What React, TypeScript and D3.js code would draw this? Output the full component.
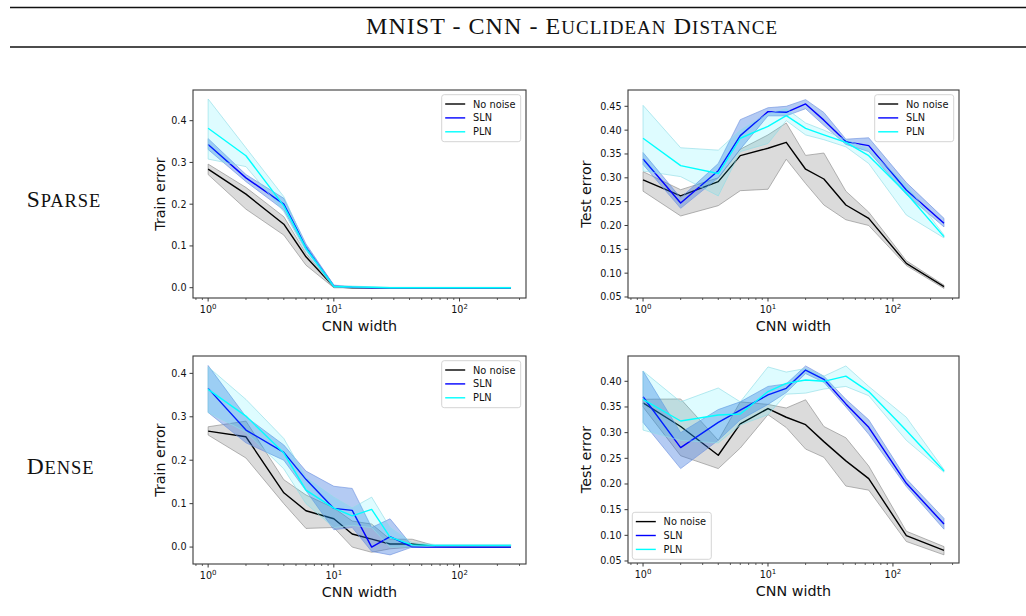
import React from 'react';
import * as d3 from 'd3';

const WIDTHS = [1, 2, 4, 6, 10, 14, 20, 28, 42, 64, 128, 256];
const SERIES_NAMES = ['No noise', 'SLN', 'PLN'];
const X_TICKS = [1, 10, 100];
const TRAIN_TICKS = [0, 0.1, 0.2, 0.3, 0.4];
const TEST_TICKS_SPARSE = [0.05, 0.1, 0.15, 0.2, 0.25, 0.3, 0.35, 0.4, 0.45];
const TEST_TICKS_DENSE = [0.05, 0.1, 0.15, 0.2, 0.25, 0.3, 0.35, 0.4];

// Sparse - train
const sparseTrainNoNoise = [0.284, 0.224, 0.152, 0.074, 0.002, 0, 0, 0, 0, 0, 0, 0];
const sparseTrainNoNoiseLo = [0.271, 0.188, 0.126, 0.054, 0, 0, 0, 0, 0, 0, 0, 0];
const sparseTrainNoNoiseHi = [0.296, 0.24, 0.17, 0.082, 0.003, 0, 0, 0, 0, 0, 0, 0];
const sparseTrainSLN = [0.343, 0.263, 0.2, 0.098, 0.004, 0.001, 0, 0, 0, 0, 0, 0];
const sparseTrainSLNLo = [0.331, 0.254, 0.186, 0.09, 0.001, 0, 0, 0, 0, 0, 0, 0];
const sparseTrainSLNHi = [0.357, 0.271, 0.214, 0.105, 0.006, 0.002, 0.001, 0, 0, 0, 0, 0];
const sparseTrainPLN = [0.382, 0.316, 0.196, 0.094, 0.003, 0.002, 0.001, 0, 0, 0, 0, 0];
const sparseTrainPLNLo = [0.308, 0.29, 0.182, 0.085, 0, 0, 0, 0, 0, 0, 0, 0];
const sparseTrainPLNHi = [0.452, 0.335, 0.218, 0.1, 0.006, 0.004, 0.002, 0.001, 0.001, 0.001, 0.001, 0.001];

// Sparse - test
const sparseTestNoNoise = [0.2955, 0.262, 0.292, 0.3465, 0.362, 0.3745, 0.318, 0.2975, 0.243, 0.215, 0.1206, 0.0717];
const sparseTestNoNoiseLo = [0.272, 0.22, 0.2416, 0.273, 0.276, 0.339, 0.288, 0.243, 0.212, 0.2, 0.116, 0.068];
const sparseTestNoNoiseHi = [0.313, 0.275, 0.3, 0.36, 0.39, 0.415, 0.347, 0.352, 0.272, 0.228, 0.126, 0.075];
const sparseTestSLN = [0.3395, 0.2472, 0.315, 0.3885, 0.4388, 0.4374, 0.455, 0.421, 0.376, 0.3675, 0.2745, 0.2045];
const sparseTestSLNLo = [0.328, 0.236, 0.3, 0.36, 0.43, 0.43, 0.445, 0.41, 0.37, 0.355, 0.265, 0.197];
const sparseTestSLNHi = [0.353, 0.258, 0.33, 0.422, 0.447, 0.45, 0.464, 0.437, 0.381, 0.384, 0.29, 0.215];
const sparseTestPLN = [0.383, 0.3255, 0.309, 0.383, 0.408, 0.4304, 0.4038, 0.39, 0.3745, 0.3465, 0.2675, 0.1766];
const sparseTestPLNLo = [0.3143, 0.3025, 0.262, 0.355, 0.372, 0.42, 0.39, 0.38, 0.365, 0.33, 0.222, 0.174];
const sparseTestPLNHi = [0.452, 0.363, 0.358, 0.4, 0.435, 0.445, 0.415, 0.4, 0.38, 0.36, 0.285, 0.18];

// Dense - train
const denseTrainNoNoise = [0.267, 0.254, 0.125, 0.0837, 0.0653, 0.03, 0.0184, 0.007, 0.007, 0.0015, 0, 0];
const denseTrainNoNoiseLo = [0.258, 0.205, 0.1, 0.043, 0.045, 0, -0.012, -0.004, 0, 0, 0, 0];
const denseTrainNoNoiseHi = [0.277, 0.29, 0.155, 0.12, 0.09, 0.06, 0.053, 0.018, 0.018, 0.003, 0, 0];
const denseTrainSLN = [0.3655, 0.2695, 0.218, 0.156, 0.089, 0.0845, 0, 0.024, 0, 0, 0, 0];
const denseTrainSLNLo = [0.31, 0.24, 0.2, 0.13, 0.04, 0.045, -0.01, -0.018, 0, 0, 0, 0];
const denseTrainSLNHi = [0.418, 0.3, 0.235, 0.175, 0.14, 0.135, 0.045, 0.065, 0.003, 0.001, 0, 0];
const denseTrainPLN = [0.363, 0.3017, 0.2165, 0.131, 0.0898, 0.072, 0.0868, 0.023, 0.005, 0.004, 0.004, 0.004];
const denseTrainPLNLo = [0.31, 0.265, 0.18, 0.1, 0.045, 0.05, 0.045, 0, 0, 0.002, 0.002, 0.002];
const denseTrainPLNHi = [0.415, 0.34, 0.25, 0.16, 0.115, 0.09, 0.115, 0.045, 0.01, 0.006, 0.006, 0.006];

// Dense - test
const denseTestNoNoise = [0.358, 0.312, 0.256, 0.317, 0.347, 0.33, 0.3156, 0.2825, 0.245, 0.2104, 0.0993, 0.0708];
const denseTestNoNoiseLo = [0.35, 0.255, 0.23, 0.27, 0.335, 0.31, 0.268, 0.252, 0.196, 0.188, 0.088, 0.062];
const denseTestNoNoiseHi = [0.365, 0.3656, 0.285, 0.36, 0.355, 0.348, 0.364, 0.312, 0.29, 0.235, 0.108, 0.078];
const denseTestSLN = [0.37, 0.2708, 0.32, 0.344, 0.3734, 0.3864, 0.422, 0.404, 0.356, 0.3104, 0.2013, 0.1221];
const denseTestSLNLo = [0.32, 0.23, 0.285, 0.325, 0.355, 0.378, 0.415, 0.398, 0.35, 0.297, 0.195, 0.112];
const denseTestSLNHi = [0.42, 0.3, 0.345, 0.36, 0.39, 0.395, 0.43, 0.41, 0.365, 0.325, 0.21, 0.133];
const denseTestPLN = [0.365, 0.3227, 0.3344, 0.3364, 0.38, 0.396, 0.4026, 0.4, 0.41, 0.38, 0.304, 0.2253];
const denseTestPLNLo = [0.305, 0.285, 0.28, 0.315, 0.335, 0.375, 0.377, 0.385, 0.39, 0.372, 0.285, 0.223];
const denseTestPLNHi = [0.42, 0.36, 0.387, 0.36, 0.428, 0.418, 0.425, 0.41, 0.43, 0.39, 0.33, 0.228];

const LINE_COLORS = ['#000000', '#0000ff', '#00ffff'];
const BAND_FILL = ['#000000', '#2f6fdf', '#00e5ff'];
const BAND_OPACITY = [0.14, 0.36, 0.13];
const BAND_STROKE = ['#8a8a8a', '#6f93e0', '#8fdde6'];

type Series = { mean: number[]; lo: number[]; hi: number[] };
type Panel = {
  left: number; right: number; top: number; bottom: number;
  yDomain: [number, number]; yTicks: number[]; fmt: string;
  yLabel: string; legend: 'ur' | 'll'; series: Series[];
};

const PANELS: Panel[] = [
  {
    left: 193, right: 526, top: 90, bottom: 298, yDomain: [-0.0247, 0.4735], yTicks: TRAIN_TICKS, fmt: '.1f',
    yLabel: 'Train error', legend: 'ur',
    series: [
      { mean: sparseTrainNoNoise, lo: sparseTrainNoNoiseLo, hi: sparseTrainNoNoiseHi },
      { mean: sparseTrainSLN, lo: sparseTrainSLNLo, hi: sparseTrainSLNHi },
      { mean: sparseTrainPLN, lo: sparseTrainPLNLo, hi: sparseTrainPLNHi },
    ],
  },
  {
    left: 628, right: 959, top: 90, bottom: 298, yDomain: [0.0479, 0.4842], yTicks: TEST_TICKS_SPARSE, fmt: '.2f',
    yLabel: 'Test error', legend: 'ur',
    series: [
      { mean: sparseTestNoNoise, lo: sparseTestNoNoiseLo, hi: sparseTestNoNoiseHi },
      { mean: sparseTestSLN, lo: sparseTestSLNLo, hi: sparseTestSLNHi },
      { mean: sparseTestPLN, lo: sparseTestPLNLo, hi: sparseTestPLNHi },
    ],
  },
  {
    left: 193, right: 526, top: 356, bottom: 564, yDomain: [-0.039, 0.44], yTicks: TRAIN_TICKS, fmt: '.1f',
    yLabel: 'Train error', legend: 'ur',
    series: [
      { mean: denseTrainNoNoise, lo: denseTrainNoNoiseLo, hi: denseTrainNoNoiseHi },
      { mean: denseTrainSLN, lo: denseTrainSLNLo, hi: denseTrainSLNHi },
      { mean: denseTrainPLN, lo: denseTrainPLNLo, hi: denseTrainPLNHi },
    ],
  },
  {
    left: 628, right: 959, top: 356, bottom: 563, yDomain: [0.0461, 0.4493], yTicks: TEST_TICKS_DENSE, fmt: '.2f',
    yLabel: 'Test error', legend: 'll',
    series: [
      { mean: denseTestNoNoise, lo: denseTestNoNoiseLo, hi: denseTestNoNoiseHi },
      { mean: denseTestSLN, lo: denseTestSLNLo, hi: denseTestSLNHi },
      { mean: denseTestPLN, lo: denseTestPLNLo, hi: denseTestPLNHi },
    ],
  },
];

const SANS = 'DejaVu Sans, sans-serif';
const SERIF = 'Liberation Serif, Times New Roman, serif';

function minorTicks(domain: [number, number]): number[] {
  const out: number[] = [];
  for (let k = -1; k <= 3; k++) {
    for (let m = 2; m <= 9; m++) {
      const v = m * Math.pow(10, k);
      if (v >= domain[0] && v <= domain[1]) out.push(v);
    }
  }
  return out;
}

function PanelView({ p }: { p: Panel }) {
  const logMin = -0.1204;
  const logMax = Math.log10(256) + 0.1204;
  const xDomain: [number, number] = [Math.pow(10, logMin), Math.pow(10, logMax)];
  const x = d3.scaleLog().domain(xDomain).range([p.left, p.right]);
  const y = d3.scaleLinear().domain(p.yDomain).range([p.bottom, p.top]);
  const fmt = d3.format(p.fmt);
  const line = d3.line<number>().x((_, i) => x(WIDTHS[i])).y((d) => y(d));
  const clipId = `clip-${p.left}-${p.top}`;

  const legW = 79, legH = 47;
  const legX = p.legend === 'ur' ? p.right - 5.3 - legW : p.left + 4.3;
  const legY = p.legend === 'ur' ? p.top + 4.7 : p.bottom - 3.7 - legH;

  return (
    <g>
      <defs>
        <clipPath id={clipId}>
          <rect x={p.left} y={p.top} width={p.right - p.left} height={p.bottom - p.top} />
        </clipPath>
      </defs>
      <g clipPath={`url(#${clipId})`}>
        {p.series.map((s, si) => {
          const area = d3
            .area<number>()
            .x((_, i) => x(WIDTHS[i]))
            .y0((_, i) => y(s.lo[i]))
            .y1((_, i) => y(s.hi[i]));
          return (
            <g key={si}>
              <path d={area(s.mean) || ''} fill={BAND_FILL[si]} fillOpacity={BAND_OPACITY[si]} stroke={BAND_STROKE[si]} strokeWidth={0.8} strokeOpacity={0.8} />
              <path d={line(s.mean) || ''} fill="none" stroke={LINE_COLORS[si]} strokeWidth={1.4} strokeLinejoin="round" />
            </g>
          );
        })}
      </g>
      <rect x={p.left} y={p.top} width={p.right - p.left} height={p.bottom - p.top} fill="none" stroke="#3a3a3a" strokeWidth={1.1} />
      {p.yTicks.map((t) => (
        <g key={t}>
          <line x1={p.left - 3.5} x2={p.left} y1={y(t)} y2={y(t)} stroke="#3a3a3a" strokeWidth={1} />
          <text x={p.left - 6.5} y={y(t) + 3.4} textAnchor="end" fontSize={9.6} fontFamily={SANS} fill="#111">
            {fmt(t)}
          </text>
        </g>
      ))}
      {X_TICKS.map((t, i) => (
        <g key={t}>
          <line x1={x(t)} x2={x(t)} y1={p.bottom} y2={p.bottom + 3.5} stroke="#3a3a3a" strokeWidth={1} />
          <text x={x(t)} y={p.bottom + 14.5} textAnchor="middle" fontSize={9.6} fontFamily={SANS} fill="#111">
            10<tspan fontSize={7} dy={-4}>{i}</tspan>
          </text>
        </g>
      ))}
      {minorTicks(xDomain).map((t) => (
        <line key={t} x1={x(t)} x2={x(t)} y1={p.bottom} y2={p.bottom + 2} stroke="#3a3a3a" strokeWidth={0.8} />
      ))}
      <text x={(p.left + p.right) / 2} y={p.bottom + 33.3} textAnchor="middle" fontSize={14.3} fontFamily={SANS} fill="#111">
        CNN width
      </text>
      <text
        transform={`translate(${p.left - (p.yLabel === 'Train error' ? 28.5 : 37)},${(p.top + p.bottom) / 2}) rotate(-90)`}
        textAnchor="middle"
        fontSize={14.3}
        fontFamily={SANS}
        fill="#111"
      >
        {p.yLabel}
      </text>
      <g>
        <rect x={legX} y={legY} width={legW} height={legH} rx={2.5} fill="#fff" fillOpacity={0.85} stroke="#d0d0d0" strokeWidth={0.9} />
        {SERIES_NAMES.map((n, i) => (
          <g key={n}>
            <line x1={legX + 3.5} x2={legX + 23.5} y1={legY + 9.3 + i * 13.9} y2={legY + 9.3 + i * 13.9} stroke={LINE_COLORS[i]} strokeWidth={1.4} />
            <text x={legX + 31.3} y={legY + 12.8 + i * 13.9} fontSize={9.8} fontFamily={SANS} fill="#111">
              {n}
            </text>
          </g>
        ))}
      </g>
    </g>
  );
}

export default function App() {
  const W = 1026, H = 616;
  return (
    <svg width={W} height={H} style={{ position: 'absolute', left: 0, top: 0, background: '#fff' }}>
      <rect x={0} y={0} width={W} height={H} fill="#fff" />
      <line x1={10} x2={1026} y1={7.5} y2={7.5} stroke="#111" strokeWidth={1.3} />
      <line x1={10} x2={1026} y1={47} y2={47} stroke="#111" strokeWidth={1.3} />
      <text x={366} y={33.5} fontFamily={SERIF} fontSize={24} fill="#111" textLength={411} lengthAdjust="spacing">
        MNIST - CNN - E<tspan fontSize={19}>UCLIDEAN</tspan> D<tspan fontSize={19}>ISTANCE</tspan>
      </text>
      <text x={26.7} y={207.3} fontFamily={SERIF} fontSize={23.5} fill="#111" textLength={73.5} lengthAdjust="spacing">
        S<tspan fontSize={18.5}>PARSE</tspan>
      </text>
      <text x={26.7} y={474} fontFamily={SERIF} fontSize={23.5} fill="#111" textLength={66.8} lengthAdjust="spacing">
        D<tspan fontSize={18.5}>ENSE</tspan>
      </text>
      {PANELS.map((p, i) => (
        <PanelView key={i} p={p} />
      ))}
    </svg>
  );
}
